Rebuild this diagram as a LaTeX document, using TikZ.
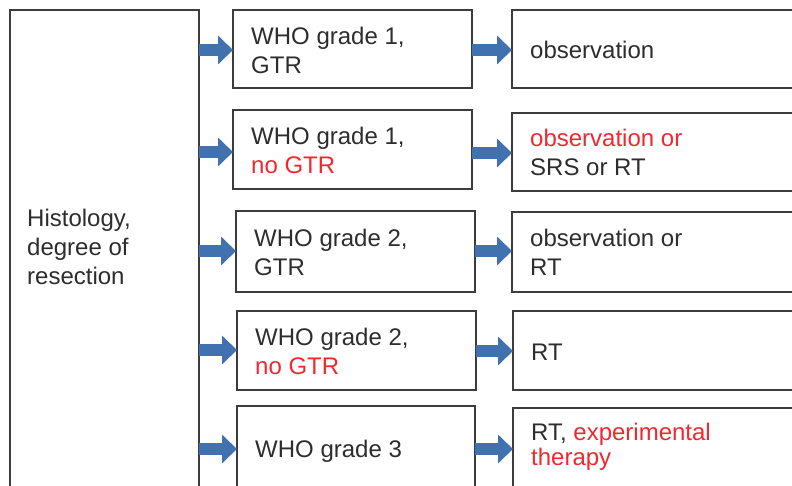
\documentclass[tikz,border=0pt]{standalone}
\usepackage{fontspec}
\setmainfont{Liberation Sans}
\usetikzlibrary{arrows.meta}
\definecolor{txtgray}{RGB}{45,45,45}
\definecolor{redtxt}{RGB}{240,40,48}
\definecolor{arrowblue}{RGB}{66,113,176}
\definecolor{boxline}{RGB}{60,60,60}
\begin{document}
\begin{tikzpicture}[x=1pt,y=-1pt,
  box/.style={draw=boxline, line width=1.5pt, fill=white, anchor=north west, inner sep=0pt, outer sep=0pt},
  txt/.style={anchor=base west, inner sep=0pt, text=txtgray, font=\fontsize{24}{29}\selectfont},
  red/.style={text=redtxt},
  blk/.style={draw=arrowblue, line width=12pt, -{Triangle[length=15pt,width=28pt]}}]
\clip (0,0) rectangle (792,485);
\fill[white] (0,0) rectangle (792,485);
% boxes
\node[box, minimum width=189pt, minimum height=490pt] (L) at (10,10) {};
\node[box, minimum width=239pt, minimum height=78pt] (m1) at (233,10) {};
\node[box, minimum width=239pt, minimum height=79pt] (m2) at (233,110) {};
\node[box, minimum width=239pt, minimum height=81pt] (m3) at (236,211) {};
\node[box, minimum width=239pt, minimum height=79pt] (m4) at (237,311) {};
\node[box, minimum width=238pt, minimum height=100pt] (m5) at (237,406) {};
\node[box, minimum width=300pt, minimum height=78pt] (r1) at (512,10) {};
\node[box, minimum width=300pt, minimum height=78pt] (r2) at (512,113) {};
\node[box, minimum width=300pt, minimum height=80pt] (r3) at (512,212) {};
\node[box, minimum width=300pt, minimum height=79pt] (r4) at (513,311) {};
\node[box, minimum width=300pt, minimum height=100pt] (r5) at (513,408) {};
% texts
\node[txt] (l1) at (27,226) {Histology,};
\node[txt] (l2) at (27,255) {degree of};
\node[txt] (l3) at (27,284) {resection};
\node[txt] (m1a) at (251,44) {WHO grade 1,};
\node[txt] (m1b) at (251,73) {GTR};
\node[txt] (m2a) at (251,144) {WHO grade 1,};
\node[txt, red] (m2b) at (251,173) {no GTR};
\node[txt] (m3a) at (254,246) {WHO grade 2,};
\node[txt] (m3b) at (254,275) {GTR};
\node[txt] (m4a) at (255,345) {WHO grade 2,};
\node[txt, red] (m4b) at (255,374) {no GTR};
\node[txt] (m5a) at (255,457) {WHO grade 3};
\node[txt] (r1a) at (530,58) {observation};
\node[txt, red] (r2a) at (530,146) {observation or};
\node[txt] (r2b) at (530,175) {SRS or RT};
\node[txt] (r3a) at (530,246) {observation or};
\node[txt] (r3b) at (530,275) {RT};
\node[txt] (r4a) at (531,360) {RT};
\node[txt] (r5a) at (531,440) {RT, \textcolor{redtxt}{experimental}};
\node[txt, red] (r5b) at (531,465) {therapy};
% arrows
\draw[blk] (L.east |- 0,50) -- (m1.west |- 0,50);
\draw[blk] (L.east |- 0,152) -- (m2.west |- 0,152);
\draw[blk] (L.east |- 0,251) -- (m3.west |- 0,251);
\draw[blk] (L.east |- 0,350) -- (m4.west |- 0,350);
\draw[blk] (L.east |- 0,449) -- (m5.west |- 0,449);
\draw[blk] (m1.east |- 0,50) -- (r1.west |- 0,50);
\draw[blk] (m2.east |- 0,153) -- (r2.west |- 0,153);
\draw[blk] (m3.east |- 0,251) -- (r3.west |- 0,251);
\draw[blk] (m4.east |- 0,351) -- (r4.west |- 0,351);
\draw[blk] (m5.east |- 0,449) -- (r5.west |- 0,449);
\end{tikzpicture}
\end{document}
